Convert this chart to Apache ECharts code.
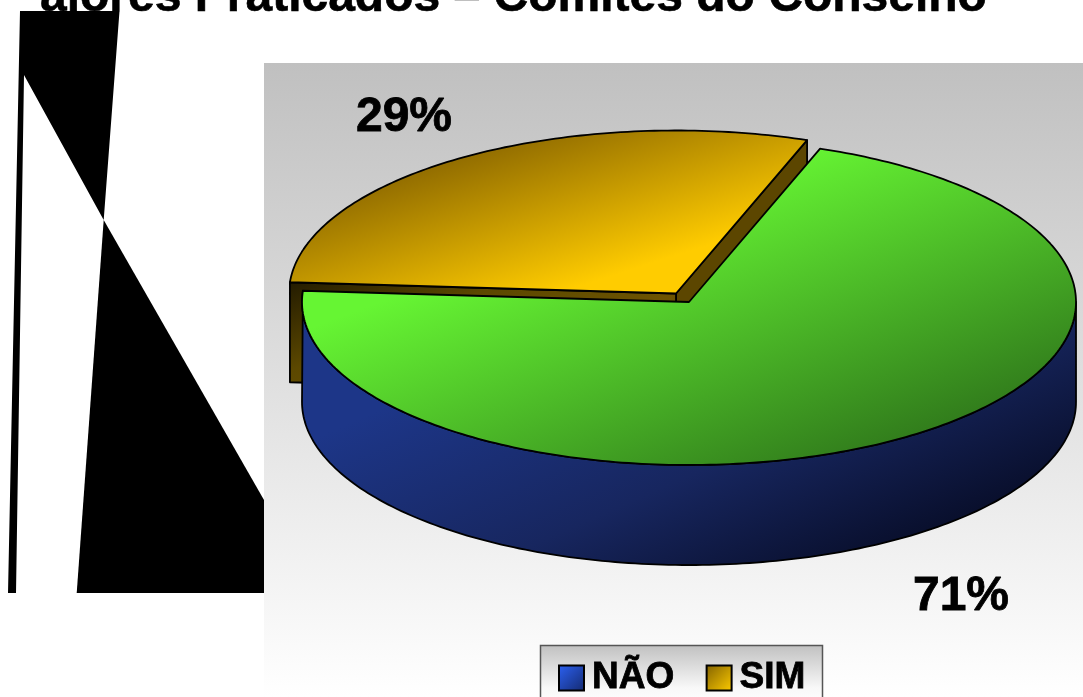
<!DOCTYPE html>
<html>
<head>
<meta charset="utf-8">
<style>
  html, body { margin: 0; padding: 0; background: #fff; overflow: hidden; }
  #chart { width: 1083px; height: 697px; }
</style>
<script src="https://cdn.jsdelivr.net/npm/echarts@6/dist/echarts.min.js"></script>
</head>
<body>
<div id="chart"></div>
<script>
var categories = ['NÃO', 'SIM'];
// measured off the slice edges, the labels show them rounded
var seriesValues = [70.6, 29.4];
var titleText = 'alores Praticados – Comitês do Conselho';

var FONT = '"Liberation Sans", Arial, sans-serif';
var chart = echarts.init(document.getElementById('chart'), null, { renderer: 'canvas' });

// pie layout, tilted so the circle reads as an ellipse
var cx = 689, cy = 302, rx = 387, ry = 163, depth = 100;
var explodeX = -13, explodeY = -8.5;
var startAngle = 70.2;

function stops(colors) {
  return colors.map(function (c) {
    return { offset: c[0], color: c[1] };
  });
}

// gradient given in page pixels
function grad(x0, y0, x1, y1, colors) {
  return new echarts.graphic.LinearGradient(x0, y0, x1, y1, stops(colors), true);
}

function pt(a, ox, oy, dy) {
  var r = a * Math.PI / 180;
  return [cx + ox + rx * Math.cos(r), cy + oy + dy - ry * Math.sin(r)];
}

// points on the rim going from a0 to a1, one per degree
function arc(a0, a1, ox, oy, dy) {
  var out = [];
  for (var a = a0; a < a1; a += 1) out.push(pt(a, ox, oy, dy));
  out.push(pt(a1, ox, oy, dy));
  return out;
}

function face(points, fill) {
  return {
    type: 'polygon',
    shape: { points: points },
    style: { fill: fill, stroke: '#000', lineWidth: 1.8, lineJoin: 'round' }
  };
}

function label(value, x, y) {
  return {
    type: 'text',
    style: {
      text: Math.round(value) + '%', x: x, y: y, fill: '#000',
      stroke: '#000', lineWidth: 0.8,
      font: 'bold 48px ' + FONT, align: 'center', verticalAlign: 'middle'
    }
  };
}

function sweep(v) {
  return v / (seriesValues[0] + seriesValues[1]) * 360;
}

function renderNao(params, api) {
  var a0 = startAngle + sweep(seriesValues[1]);
  var a1 = startAngle + 360;
  var upper = arc(a0, 360, 0, 0, 0);
  var lower = arc(180, 360, 0, 0, depth).reverse();
  return {
    type: 'group',
    children: [
      face(upper.concat(lower), grad(560, 330, 710, 670, [[0, '#1d3688'], [0.5, '#17265f'], [0.95, '#070c26']])),
      face([[cx, cy]].concat(arc(a0, a1, 0, 0, 0)), grad(653, 201, 760, 490, [[0, '#66f533'], [1, '#327e1c']])),
      label(api.value(0), 961, 597)
    ]
  };
}

function renderSim(params, api) {
  var a0 = startAngle;
  var a1 = startAngle + sweep(api.value(0));
  var c = [cx + explodeX, cy + explodeY];
  var c2 = [c[0], c[1] + depth];
  return {
    type: 'group',
    children: [
      face([c, pt(a0, explodeX, explodeY, 0), pt(a0, explodeX, explodeY, depth), c2], '#5c4600'),
      face([c, pt(a1, explodeX, explodeY, 0), pt(a1, explodeX, explodeY, depth), c2],
        grad(290, 283, 352, 433, [[0, '#241c00'], [0.5, '#5c4800'], [1, '#6e5400']])),
      face([c].concat(arc(a0, a1, explodeX, explodeY, 0)), grad(500, 132, 552, 295, [[0, '#8a6600'], [1, '#ffcc00']])),
      label(api.value(0), 404, 118)
    ]
  };
}

var option = {
  animation: false,
  backgroundColor: '#fff',
  legend: {
    left: 558,
    top: 659,
    padding: 0,
    itemWidth: 25,
    itemHeight: 25,
    itemGap: 31,
    selectedMode: false,
    textStyle: {
      color: '#000', fontFamily: FONT, fontWeight: 'bold', fontSize: 37, padding: [2, 0, 0, 3],
      textBorderColor: '#000', textBorderWidth: 0.8
    },
    data: [
      {
        name: categories[0], icon: 'rect',
        itemStyle: { color: new echarts.graphic.LinearGradient(0, 0, 1, 1, stops([[0, '#2c62f5'], [1, '#14296e']])), borderColor: '#000', borderWidth: 2 }
      },
      {
        name: categories[1], icon: 'rect',
        itemStyle: { color: new echarts.graphic.LinearGradient(0, 0, 1, 1, stops([[0, '#806000'], [1, '#ffcc00']])), borderColor: '#000', borderWidth: 2 }
      }
    ]
  },
  graphic: [
    { // title first, the black shape sits over it
      type: 'text', z: 0,
      style: { text: titleText, x: 40, y: 21.5, fill: '#000', stroke: '#000', lineWidth: 0.6, font: 'bold 48px ' + FONT, verticalAlign: 'bottom' }
    },
    {
      type: 'polygon', z: 1,
      shape: { points: [[20, 11], [119.5, 11], [103.7, 220], [24, 75], [16, 593], [8, 593]] },
      style: { fill: '#000' }
    },
    {
      type: 'polygon', z: 1,
      shape: { points: [[103.7, 220], [264, 500], [264, 593], [76.7, 593]] },
      style: { fill: '#000' }
    },
    {
      type: 'rect', z: 1,
      shape: { x: 264, y: 63, width: 819, height: 634 },
      style: { fill: new echarts.graphic.LinearGradient(0, 0, 0, 1, stops([[0, '#c0c0c0'], [1, '#ffffff']])) }
    },
    {
      type: 'rect', z: 3,
      shape: { x: 540.5, y: 645.5, width: 282, height: 60 },
      style: {
        fill: new echarts.graphic.LinearGradient(0, 0, 0, 1, stops([[0, '#c0c0c0'], [0.7, '#f8f8f8'], [1, '#ffffff']])),
        stroke: '#555', lineWidth: 1.5
      }
    }
  ],
  series: [
    {
      name: categories[1], type: 'custom', coordinateSystem: 'none', z: 2,
      itemStyle: { color: '#ffcc00' },
      data: [seriesValues[1]], renderItem: renderSim
    },
    {
      name: categories[0], type: 'custom', coordinateSystem: 'none', z: 2,
      itemStyle: { color: '#2c62f5' },
      data: [seriesValues[0]], renderItem: renderNao
    }
  ]
};
chart.setOption(option);
</script>
</body>
</html>
